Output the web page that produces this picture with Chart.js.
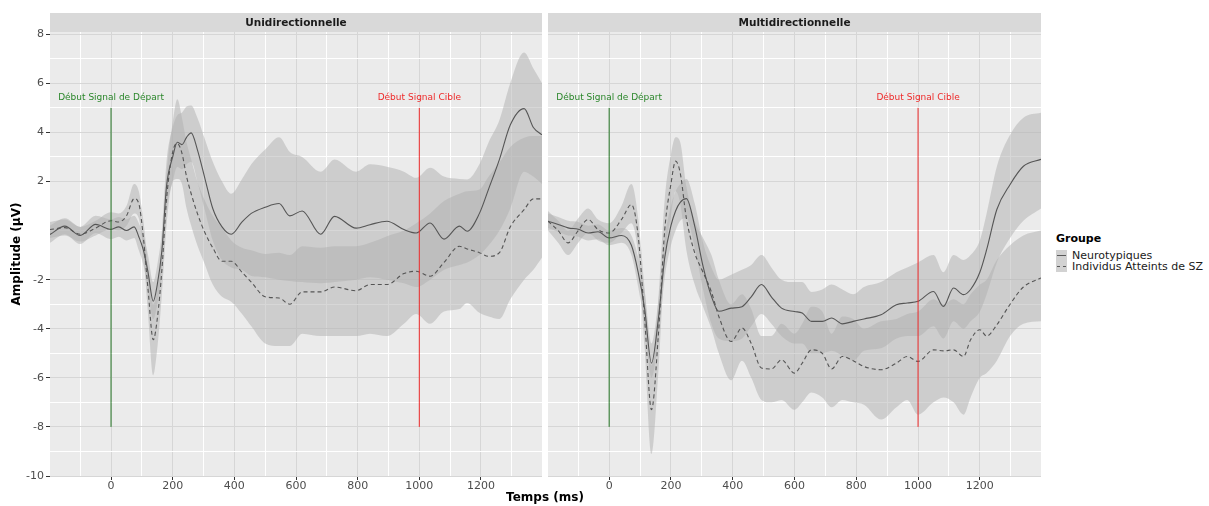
<!DOCTYPE html>
<html>
<head>
<meta charset="utf-8">
<script src="https://cdn.jsdelivr.net/npm/chart.js@4.4.1/dist/chart.umd.min.js"></script>
<style>
  body { margin: 0; background: #fff; width: 1209px; height: 506px; overflow: hidden; position: relative; font-family: "DejaVu Sans", sans-serif; }
  canvas { position: absolute; top: 0; }
  #uni { left: 0; }
  #multi { left: 545px; }
  .xtitle { position: absolute; left: 445px; width: 200px; top: 490px; text-align: center; font-weight: bold; font-size: 12px; color: #000; line-height: 14px; }
  .legend { position: absolute; left: 1056px; top: 232px; color: #1a1a1a; font-size: 11px; }
  .legend .ltitle { font-weight: bold; font-size: 11px; line-height: 14px; margin-bottom: 4px; color: #000; }
  .legend .row { height: 11px; line-height: 11px; white-space: nowrap; }
  .legend .key { display: inline-block; width: 11px; height: 11px; background: #d2d2d2; position: relative; vertical-align: top; margin-right: 5px; }
  .legend .ln { position: absolute; left: 1px; right: 1px; top: 5px; border-top: 1px solid #595959; }
  .legend .ln.dash { border-top-style: dashed; }
</style>
</head>
<body>
<canvas id="uni" width="545" height="506"></canvas>
<canvas id="multi" width="500" height="506"></canvas>
<div class="xtitle">Temps (ms)</div>
<div class="legend">
  <div class="ltitle">Groupe</div>
  <div class="row"><span class="key"><span class="ln"></span></span>Neurotypiques</div>
  <div class="row"><span class="key"><span class="ln dash"></span></span>Individus Atteints de SZ</div>
</div>
<script>
// Panel titles and group names
const panelTitles = ['Unidirectionnelle', 'Multidirectionnelle'];
const groupLabels = ['Neurotypiques', 'Individus Atteints de SZ'];

// Axis ticks (ggplot style: labelled majors, white minors in between)
const xMajorTicks = [0, 200, 400, 600, 800, 1000, 1200];
const xMinorTicks = [-100, 100, 300, 500, 700, 900, 1100, 1300];
const yMajorTicks = [-10, -8, -6, -4, -2, 2, 4, 6, 8];
const yMinorTicks = [-9, -7, -5, -3, 0, 3, 5, 7];

// Event markers
const markerTimes = [0, 1000];
const markerLabels = ['Début Signal de Départ', 'Début Signal Cible'];
const markerBottom = -8;
const markerTop = 5;
const markerLabelY = 5.42;

// Unidirectionnelle (ms, µV)
const timeUni = [-198, -150, -100, -50, 0, 25, 50, 75, 90, 105, 120, 137, 150, 165, 180, 200, 215, 230, 245, 260, 280, 305, 330, 360, 390, 425, 455, 500, 545, 580, 620, 680, 725, 795, 840, 895, 950, 990, 1035, 1080, 1130, 1155, 1195, 1225, 1260, 1295, 1340, 1370, 1398];
const ntUniMean = [-0.16, 0.18, -0.2, 0.25, 0.05, 0.15, 0.0, 0.15, -0.25, -0.8, -1.7, -2.88, -2.2, -0.8, 1.8, 3.0, 3.6, 3.5, 3.8, 3.98, 3.3, 2.1, 0.9, 0.15, -0.15, 0.35, 0.7, 0.95, 1.1, 0.6, 0.8, -0.15, 0.58, 0.1, 0.24, 0.38, 0.04, -0.1, 0.31, -0.35, 0.18, -0.03, 0.7, 1.7, 2.9, 4.3, 4.97, 4.2, 3.9];
const ntUniLow = [-0.5, -0.15, -0.55, -0.1, -0.35, -0.25, -0.4, -0.3, -0.8, -1.4, -2.4, -3.6, -3.0, -1.6, 0.8, 2.0, 2.6, 2.5, 2.7, 2.8, 2.0, 0.8, -0.4, -1.2, -1.5, -1.6, -1.85, -1.9, -2.0, -2.05, -2.1, -2.15, -2.1, -2.0, -1.9, -2.0, -2.15, -2.3, -2.0, -1.6, -1.4, -1.3, -1.0, -0.6, 0.0, 0.9, 2.4, 2.2, 1.9];
const ntUniHigh = [0.2, 0.5, 0.15, 0.6, 0.45, 0.55, 0.45, 0.6, 0.3, -0.2, -1.0, -2.1, -1.4, 0.0, 2.8, 4.2, 4.7, 4.8, 5.05, 5.1, 4.6, 3.7, 2.8, 2.0, 1.5, 2.1, 2.7, 3.3, 3.8, 3.2, 3.0, 2.4, 2.9, 2.4, 2.7, 2.6, 2.4, 2.15, 2.56, 2.2, 2.1, 2.08, 2.7, 3.6, 4.5, 6.0, 7.25, 6.6, 6.0];
const szUniMean = [0.04, 0.12, -0.15, 0.1, 0.4, 0.35, 0.6, 1.3, 1.1, -0.3, -2.4, -4.45, -3.6, -1.6, 1.27, 3.2, 3.55, 3.15, 2.2, 1.5, 0.7, -0.1, -0.7, -1.25, -1.25, -1.7, -2.1, -2.7, -2.75, -3.0, -2.5, -2.5, -2.3, -2.45, -2.2, -2.2, -1.75, -1.66, -1.86, -1.3, -0.64, -0.75, -0.9, -1.05, -0.9, 0.15, 0.85, 1.29, 1.29];
const szUniLow = [-0.3, -0.2, -0.45, -0.2, 0.05, 0.0, 0.2, 0.7, 0.5, -1.0, -3.4, -5.9, -4.8, -2.6, 0.2, 2.0, 2.1, 1.9, 0.9, 0.2, -0.6, -1.4, -2.2, -2.7, -2.9, -3.4, -3.9, -4.6, -4.7, -4.7, -4.2, -4.3, -4.3, -4.3, -4.2, -4.3, -3.8, -3.4, -3.8, -3.3, -3.2, -2.95, -3.35, -3.5, -3.6, -2.8, -2.0, -1.6, -1.1];
const szUniHigh = [0.35, 0.45, 0.15, 0.4, 0.75, 0.7, 1.0, 1.9, 1.6, 0.4, -1.4, -3.0, -2.4, -0.6, 2.3, 4.4, 5.35, 4.6, 3.6, 2.9, 2.0, 1.2, 0.6, 0.1, -0.4, -0.7, -0.8, -0.95, -0.9, -1.0, -0.64, -0.7, -0.64, -0.64, -0.5, -0.23, 0.0, 0.3, 0.7, 1.2, 1.5, 1.6, 1.67, 2.2, 2.77, 3.4, 3.78, 3.85, 3.85];

// Multidirectionnelle (ms, µV)
const timeMulti = [-198, -165, -133, -100, -68, -36, 0, 40, 72, 94, 115, 137, 159, 180, 200, 215, 230, 250, 277, 304, 331, 355, 395, 430, 460, 493, 525, 558, 600, 625, 655, 690, 720, 755, 790, 825, 880, 930, 965, 1000, 1050, 1082, 1115, 1147, 1170, 1200, 1222, 1255, 1298, 1341, 1398];
const ntMultiMean = [0.38, 0.25, 0.11, 0.05, -0.1, -0.05, -0.3, -0.2, -0.6, -1.7, -3.2, -5.4, -3.63, -1.1, 0.2, 0.8, 1.15, 1.3, 0.18, -1.46, -2.68, -3.29, -3.16, -3.1, -2.7, -2.2, -2.7, -3.16, -3.3, -3.36, -3.7, -3.7, -3.56, -3.8, -3.7, -3.6, -3.43, -3.02, -2.95, -2.88, -2.48, -3.09, -2.34, -2.61, -2.4, -1.7, -0.78, 0.86, 1.88, 2.62, 2.9];
const ntMultiLow = [0.1, -0.05, -0.2, -0.25, -0.4, -0.35, -0.6, -0.5, -1.0, -2.3, -3.9, -6.0, -4.4, -1.9, -0.6, 0.0, 0.4, 0.5, -0.7, -2.4, -3.8, -4.4, -4.5, -4.4, -3.9, -3.4, -3.8, -4.3, -4.6, -4.6, -5.0, -5.0, -4.9, -5.1, -5.3, -4.9, -4.8, -4.4, -4.3, -4.3, -3.9, -4.4, -3.7, -4.0, -3.7, -3.3, -2.6, -1.3, -0.3, 0.4, 0.9];
const ntMultiHigh = [0.7, 0.55, 0.4, 0.35, 0.2, 0.25, 0.0, 0.1, -0.2, -1.1, -2.5, -4.6, -2.9, -0.3, 1.0, 1.6, 1.9, 2.1, 1.1, -0.5, -1.5, -2.0, -1.8, -1.6, -1.4, -1.0, -1.5, -2.0, -2.1, -2.1, -2.5, -2.4, -2.2, -2.4, -2.6, -2.3, -2.1, -1.7, -1.5, -1.3, -1.0, -1.7, -1.0, -1.2, -1.0, -0.4, 0.7, 2.6, 3.9, 4.6, 4.8];
const szMultiMean = [0.38, 0.0, -0.5, 0.0, 0.45, 0.04, -0.1, 0.45, 1.06, -0.23, -3.63, -7.3, -4.31, 0.04, 1.9, 2.83, 2.35, 0.5, -0.91, -1.7, -2.5, -3.5, -4.52, -3.97, -4.6, -5.6, -5.64, -5.27, -5.81, -5.4, -4.86, -5.0, -5.64, -5.13, -5.3, -5.54, -5.67, -5.4, -5.13, -5.33, -4.86, -4.9, -4.86, -5.13, -4.45, -4.04, -4.3, -3.84, -3.0, -2.3, -1.93];
const szMultiLow = [0.0, -0.5, -1.0, -0.5, -0.1, -0.4, -0.5, -0.1, 0.3, -1.0, -4.8, -9.1, -5.8, -1.2, 0.6, 1.6, 1.1, -0.8, -2.2, -3.1, -4.0, -5.0, -6.1, -5.3, -6.0, -6.9, -7.0, -6.9, -7.3, -7.0, -6.6, -6.8, -7.2, -6.9, -7.0, -7.1, -7.7, -7.2, -6.9, -7.5, -7.0, -6.8, -7.0, -7.5, -6.8, -6.0, -5.8, -5.3, -4.3, -3.8, -3.7];
const szMultiHigh = [0.8, 0.4, 0.0, 0.5, 0.9, 0.45, 0.3, 1.0, 1.9, 0.5, -2.4, -5.5, -2.8, 1.3, 3.1, 3.8, 3.6, 1.8, 0.4, -0.3, -1.0, -2.0, -3.0, -2.6, -3.2, -4.3, -4.3, -3.8, -4.2, -3.8, -3.1, -3.3, -4.2, -3.5, -3.6, -4.0, -3.7, -3.6, -3.4, -3.3, -2.8, -3.0, -2.8, -3.0, -2.6, -2.2, -2.0, -1.2, -0.6, -0.2, 0.0];

// Colours
const PANEL_BG = '#EBEBEB';
const STRIP_BG = '#D9D9D9';
const GRID_MAJOR = '#D6D6D6';
const GRID_MINOR = '#FFFFFF';
const TICK_COLOR = '#333333';
const TEXT_GREY = '#4D4D4D';
const BAND_FILL = 'rgba(175,175,175,0.5)';
const MEAN_COLOR = '#555555';
const markerLineColors = ['#247524', '#EE2A2A'];
const markerTextColors = ['#2A862A', '#EE2A2A'];
const FONT = '"DejaVu Sans", sans-serif';

const xTickValues = [...xMajorTicks, ...xMinorTicks].sort((a, b) => a - b);
const yTickValues = [...yMajorTicks, ...yMinorTicks].sort((a, b) => a - b);

const pts = (t, v) => t.map((x, i) => ({ x: x, y: v[i] }));

// Background, facet strip and marker captions
const panelDecor = {
  id: 'panelDecor',
  beforeDraw: (chart, args, opts) => {
    const ctx = chart.ctx;
    const a = chart.chartArea;
    ctx.save();
    ctx.fillStyle = PANEL_BG;
    ctx.fillRect(a.left, a.top, a.right - a.left, a.bottom - a.top);
    ctx.fillStyle = STRIP_BG;
    ctx.fillRect(a.left, 13, a.right - a.left, a.top - 13);
    ctx.fillStyle = '#1A1A1A';
    ctx.font = 'bold 10.5px ' + FONT;
    ctx.textAlign = 'center';
    ctx.textBaseline = 'middle';
    ctx.fillText(opts.title, (a.left + a.right) / 2, (13 + a.top) / 2 + 0.5);
    ctx.restore();
  },
  afterDatasetsDraw: (chart) => {
    const ctx = chart.ctx;
    const x = chart.scales.x;
    const y = chart.scales.y;
    ctx.save();
    ctx.font = '9px ' + FONT;
    ctx.textAlign = 'center';
    ctx.textBaseline = 'middle';
    markerTimes.forEach((t, i) => {
      ctx.fillStyle = markerTextColors[i];
      ctx.fillText(markerLabels[i], x.getPixelForValue(t), y.getPixelForValue(markerLabelY));
    });
    ctx.restore();
  }
};

function renderPanel(canvasId, title, time, ntMean, ntLow, ntHigh, szMean, szLow, szHigh, showYAxis) {
  const ctx = document.getElementById(canvasId).getContext('2d');

  const band = (vals, fill) => ({
    data: pts(time, vals),
    borderWidth: 0,
    borderColor: 'rgba(0,0,0,0)',
    backgroundColor: BAND_FILL,
    pointRadius: 0,
    cubicInterpolationMode: 'monotone',
    fill: fill,
    order: 3
  });

  const datasets = [
    band(ntLow, false),
    band(ntHigh, '-1'),
    band(szLow, false),
    band(szHigh, '-1'),
    {
      label: groupLabels[0],
      data: pts(time, ntMean),
      borderColor: MEAN_COLOR,
      borderWidth: 1.1,
      pointRadius: 0,
      cubicInterpolationMode: 'monotone',
      fill: false,
      order: 2
    },
    {
      label: groupLabels[1],
      data: pts(time, szMean),
      borderColor: MEAN_COLOR,
      borderWidth: 1.1,
      borderDash: [4, 3],
      pointRadius: 0,
      cubicInterpolationMode: 'monotone',
      fill: false,
      order: 2
    }
  ];

  markerTimes.forEach((t, i) => {
    datasets.push({
      data: [{ x: t, y: markerBottom }, { x: t, y: markerTop }],
      borderColor: markerLineColors[i],
      borderWidth: 1,
      pointRadius: 0,
      tension: 0,
      fill: false,
      order: 1
    });
  });

  const isMajorX = (c) => c.tick && xMajorTicks.includes(c.tick.value);
  const isMajorY = (c) => c.tick && yMajorTicks.includes(c.tick.value);

  return new Chart(ctx, {
    type: 'line',
    data: { datasets: datasets },
    options: {
      responsive: false,
      animation: false,
      events: [],
      layout: {
        padding: showYAxis ? { left: 0, right: 3, top: 32, bottom: 0 } : { left: 3, right: 4, top: 32, bottom: 0 }
      },
      plugins: {
        legend: { display: false },
        tooltip: { enabled: false },
        panelDecor: { title: title }
      },
      scales: {
        x: {
          type: 'linear',
          min: -198,
          max: 1398,
          afterBuildTicks: (s) => { s.ticks = xTickValues.map(v => ({ value: v })); },
          afterFit: (s) => { s.height = 30; },
          border: { display: false },
          grid: {
            color: c => isMajorX(c) ? GRID_MAJOR : GRID_MINOR,
            tickColor: c => isMajorX(c) ? TICK_COLOR : 'rgba(0,0,0,0)',
            tickLength: 4,
            lineWidth: 1
          },
          ticks: {
            autoSkip: false,
            maxRotation: 0,
            padding: 0,
            color: TEXT_GREY,
            font: { family: FONT, size: 11 },
            callback: v => xMajorTicks.includes(v) ? String(v) : ''
          }
        },
        y: {
          type: 'linear',
          min: -10,
          max: 8.09,
          afterBuildTicks: (s) => { s.ticks = yTickValues.map(v => ({ value: v })); },
          afterFit: (s) => { s.width = showYAxis ? 50 : 0; },
          border: { display: false },
          title: {
            display: showYAxis,
            text: 'Amplitude (µV)',
            color: '#000',
            font: { family: FONT, size: 12, weight: 'bold' },
            padding: { top: 10, bottom: 0 }
          },
          grid: {
            color: c => isMajorY(c) ? GRID_MAJOR : GRID_MINOR,
            tickColor: c => isMajorY(c) ? TICK_COLOR : 'rgba(0,0,0,0)',
            tickLength: 4,
            drawTicks: showYAxis,
            lineWidth: 1
          },
          ticks: {
            display: showYAxis,
            autoSkip: false,
            padding: 2,
            color: TEXT_GREY,
            font: { family: FONT, size: 11 },
            callback: v => yMajorTicks.includes(v) ? String(v) : ''
          }
        }
      }
    },
    plugins: [panelDecor]
  });
}

renderPanel('uni', panelTitles[0], timeUni, ntUniMean, ntUniLow, ntUniHigh, szUniMean, szUniLow, szUniHigh, true);
renderPanel('multi', panelTitles[1], timeMulti, ntMultiMean, ntMultiLow, ntMultiHigh, szMultiMean, szMultiLow, szMultiHigh, false);
</script>
</body>
</html>
